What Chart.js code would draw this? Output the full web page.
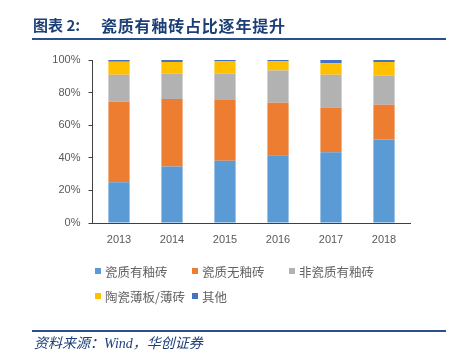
<!DOCTYPE html>
<html>
<head>
<meta charset="utf-8">
<script src="https://cdn.jsdelivr.net/npm/chart.js@4/dist/chart.umd.min.js"></script>
<style>
  html, body { margin: 0; padding: 0; background: #fff; }
  #wrap { position: relative; width: 468px; height: 356px; overflow: hidden; }
  #c { position: absolute; left: 0; top: 0; }
  .tt { position: absolute; top: 15px; font: bold 15px "Noto Sans CJK SC", sans-serif; color: #1d3f78; white-space: nowrap; line-height: 20px; }
  #title1 { left: 33px; }
  #title2 { left: 101px; font-size: 16px; letter-spacing: 0.8px; top: 14.5px; }
  #tline { position: absolute; left: 32px; top: 38px; width: 414px; height: 2px; background: #2a4f8a; }
  #fline { position: absolute; left: 32px; top: 330px; width: 414px; height: 2px; background: #2a4f8a; }
  #foot { position: absolute; left: 34px; top: 335px; font: italic 14px "Liberation Serif", "Noto Sans CJK SC", serif; color: #1d3f78; white-space: nowrap; line-height: 18px; }
  #legend { position: absolute; left: 95px; top: 262px; display: grid; grid-template-columns: 97px 97px 97px; row-gap: 7px; font: 12.5px "Noto Sans CJK SC", sans-serif; color: #636363; }
  .li { display: flex; align-items: center; white-space: nowrap; height: 18px; }
  .sw { width: 6px; height: 6px; margin-right: 4px; flex: none; }
</style>
</head>
<body>
<div id="wrap">
  <canvas id="c" width="468" height="356"></canvas>
  <div id="title1" class="tt">图表 2:</div>
  <div id="title2" class="tt">瓷质有釉砖占比逐年提升</div>
  <div id="tline"></div>
  <div id="legend"></div>
  <div id="fline"></div>
  <div id="foot">资料来源：Wind，华创证券</div>
</div>
<script>
const categories = ['2013', '2014', '2015', '2016', '2017', '2018'];
const seriesNames = ['瓷质有釉砖', '瓷质无釉砖', '非瓷质有釉砖', '陶瓷薄板/薄砖', '其他'];
const glazedPorcelain   = [25.0, 34.7, 38.2, 41.5, 43.4, 51.3];
const unglazedPorcelain = [49.4, 41.4, 37.3, 32.3, 27.4, 21.3];
const glazedNonPorcelain = [16.6, 15.5, 16.1, 19.7, 20.2, 17.8];
const thinPanels        = [8.0, 7.2, 7.8, 5.9, 7.0, 8.4];
const others            = [1.0, 1.2, 0.6, 0.6, 2.0, 1.2];
const yTicks = [0, 20, 40, 60, 80, 100];

const colors = ['#5b9bd5', '#ed7d31', '#b2b2b2', '#ffc000', '#4472c4'];
const seriesData = [glazedPorcelain, unglazedPorcelain, glazedNonPorcelain, thinPanels, others];

const datasets = seriesNames.map((name, i) => ({
  label: name,
  data: seriesData[i],
  backgroundColor: colors[i],
  borderWidth: 0,
  barPercentage: 0.4,
  categoryPercentage: 1.0
}));

// HTML legend built from datasets
const lg = document.getElementById('legend');
datasets.forEach(ds => {
  const d = document.createElement('div');
  d.className = 'li';
  const s = document.createElement('span');
  s.className = 'sw';
  s.style.background = ds.backgroundColor;
  d.appendChild(s);
  d.appendChild(document.createTextNode(ds.label));
  lg.appendChild(d);
});

new Chart(document.getElementById('c'), {
  type: 'bar',
  data: { labels: categories, datasets },
  options: {
    responsive: false,
    animation: false,
    layout: { padding: { left: 0, top: 60, right: 57.5, bottom: 103 } },
    plugins: { legend: { display: false }, tooltip: { enabled: false } },
    scales: {
      x: {
        stacked: true,
        grid: { display: false, drawTicks: false, tickLength: 0 },
        border: { display: true, color: '#404040', width: 1 },
        ticks: { color: '#595959', font: { family: 'Liberation Sans', size: 11 }, padding: 10 },
        afterFit: s => { s.height = 30; }
      },
      y: {
        stacked: true,
        min: 0, max: 100,
        afterBuildTicks: s => { s.ticks = yTicks.map(v => ({ value: v })); },
        grid: { display: true, drawOnChartArea: false, drawTicks: true, tickLength: 4, color: '#404040' },
        border: { display: true, color: '#404040', width: 1 },
        ticks: { color: '#595959', font: { family: 'Liberation Sans', size: 11 }, padding: 8, callback: v => v + '%' },
        afterFit: s => { s.width = 92.5; }
      }
    }
  }
});
</script>
</body>
</html>
